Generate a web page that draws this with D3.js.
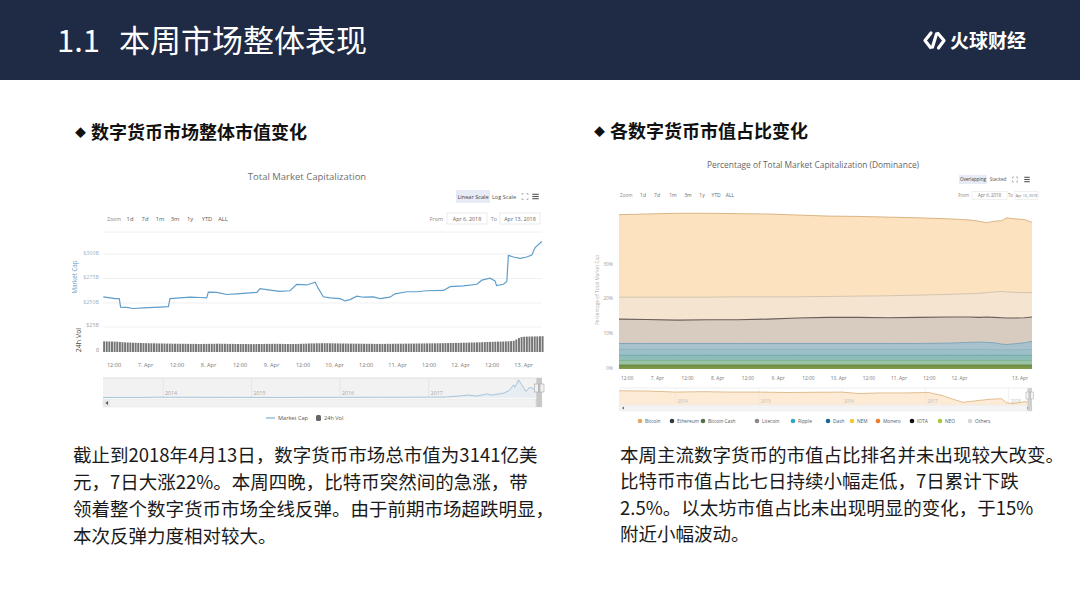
<!DOCTYPE html>
<html>
<head>
<meta charset="utf-8">
<style>
  body { margin: 0; background: #fff; }
  svg { display: block; }
  .cjk { font-family: "Noto Sans CJK SC", sans-serif; }
  .hc text { font-family: "Open Sans", "DejaVu Sans", sans-serif; }
  .axis path, .axis line { display: none; }
  .axis text { font-family: "Open Sans", sans-serif; fill: #777; }
</style>
</head>
<body>
<script src="https://cdn.jsdelivr.net/npm/d3@7"></script>
<script>
// ---------- data ----------
// total market cap, hours after 2018-04-06 00:00 (UTC) and $B
var capHours = [8.1,10.7,12.6,14.2,14.7,17.0,19.5,23.4,27.2,29.7,
  32.9,33.5,37.3,41.1,45.0,47.5,48.1,51.3,55.1,58.9,
  62.7,66.6,67.8,71.6,75.4,79.2,81.8,85.6,88.8,90.0,
  91.9,94.5,98.3,100.2,102.1,104.7,107.2,111.0,113.5,117.3,
  119.2,123.7,127.5,131.3,137.7,140.2,145.3,150.4,152.3,155.4,
  157.3,157.9,160.5,161.8,162.4,164.3,166.9,169.4,171.3,172.6,175.1];
var capValues = [256.3,255.2,254.5,254.5,245.8,245.5,244.4,245.1,245.5,245.8,
  246.2,254.5,255.2,255.9,255.6,255.2,261.1,260.8,258.7,259.4,
  260.1,260.8,264.6,263.2,261.8,262.5,269.1,268.4,271.2,264.9,
  256.3,255.2,254.5,252.1,253.5,257.0,255.9,256.3,254.5,255.9,
  259.4,261.5,261.5,262.5,262.8,266.7,267.4,269.1,273.3,275.3,
  272.6,267.7,269.1,271.9,298.6,296.9,295.5,296.9,299.0,306.6,312.8];

// 24h volume ($B), hourly from hour 8 (Apr 6 08:00)
var volStartHour = 8;
var volValues = [
  10.6,10.6,10.5,10.5,10.4,10.3,10.0,9.8,9.6,9.5,9.4,9.3,9.2,9.1,9.0,8.9,8.8,8.8,8.7,8.7,8.6,8.6,8.5,8.5,
  8.4,8.4,8.3,8.3,8.3,8.2,8.2,8.2,8.1,8.1,8.1,8.1,8.0,8.0,8.1,8.1,8.2,8.2,8.2,8.3,8.3,8.2,8.2,8.1,
  8.1,8.1,8.0,8.0,8.0,8.0,8.0,7.9,7.9,7.9,8.0,8.0,8.0,8.1,8.1,8.1,8.2,8.2,8.2,8.1,8.1,8.0,8.0,8.0,
  8.0,8.1,8.1,8.2,8.3,8.4,8.5,8.6,8.6,8.7,8.7,8.8,8.8,8.8,8.7,8.7,8.6,8.6,8.5,8.5,8.5,8.4,8.4,8.4,
  8.3,8.3,8.3,8.2,8.2,8.2,8.2,8.1,8.1,8.1,8.1,8.1,8.2,8.2,8.2,8.3,8.3,8.3,8.3,8.4,8.4,8.4,8.4,8.5,
  8.5,8.5,8.6,8.6,8.6,8.7,8.7,8.7,8.8,8.8,8.9,8.9,9.0,9.0,9.1,9.1,9.2,9.3,9.3,9.4,9.5,9.5,9.6,9.7,
  9.8,9.9,10.0,10.1,10.2,10.3,10.4,10.4,10.5,10.6,10.7,10.9,11.2,12.5,14.0,15.0,15.3,15.4,15.5,15.5,15.6,15.6,15.7,15.8];

var capTicks = ["$250B", "$275B", "$300B"];
var capTickValues = [250, 275, 300];
var volTicks = ["0", "$25B"];
var volTickValues = [0, 25];

// navigator, total market cap history ($B)
var navCapDates = ["2013-04-28","2013-10-01","2013-12-04","2014-02-01","2014-06-01","2014-10-01","2015-01-15","2015-06-01",
  "2015-11-05","2016-03-01","2016-06-18","2016-10-01","2017-01-05","2017-03-15","2017-05-25","2017-06-12","2017-07-16",
  "2017-09-01","2017-09-15","2017-11-07","2017-11-29","2017-12-17","2017-12-22","2018-01-07","2018-01-20","2018-02-06",
  "2018-02-20","2018-03-05","2018-03-18","2018-04-06","2018-04-13"];
var navCapValues = [1.5,2,15,12,8,6,3.5,3.3,6,9,12,12,17,24,90,115,72,170,110,210,330,600,480,830,600,290,470,450,300,260,314];

// dominance (%), hours after 2018-04-06 00:00
var domHours = [9,20,32,44,56,68,80,92,104,116,128,140,148,152,155,158,161,163,166,170,173];
var btcDom    = [44.2,44.4,44.6,44.6,44.5,44.4,44.1,43.8,43.7,43.5,43.3,43.0,42.7,42.3,41.9,42.3,42.5,43.3,43.0,42.8,42.0];
var othersDom = [20.5,20.5,20.5,20.5,20.6,20.6,20.6,20.7,20.8,20.9,21.1,21.3,21.5,21.6,21.8,22.0,22.1,22.0,21.9,21.8,21.8];
var ethDom    = [14.2,14.1,13.9,14.0,14.0,14.2,14.5,14.7,14.7,14.6,14.7,14.8,14.8,14.7,14.8,14.7,14.6,14.5,14.5,14.6,14.8];
var xrpDom    = [7.2,7.2,7.2,7.2,7.2,7.2,7.2,7.2,7.2,7.2,7.2,7.3,7.5,7.6,7.5,7.4,7.0,6.9,7.1,7.4,7.8];
var bchDom    = [5.5,5.5,5.5,5.5,5.5,5.5,5.5,5.5,5.5,5.5,5.5,5.5,5.5,5.5,5.5,5.4,5.4,5.4,5.4,5.4,5.5];
var ltcDom    = [3.8,3.8,3.8,3.8,3.8,3.8,3.8,3.8,3.8,3.8,3.8,3.8,3.8,3.8,3.8,3.8,3.8,3.8,3.8,3.8,3.8];
var neoDom    = [2.3,2.3,2.3,2.3,2.3,2.3,2.3,2.3,2.3,2.3,2.3,2.3,2.3,2.3,2.3,2.3,2.3,2.3,2.3,2.3,2.3];
var iotaDom   = [1.0,1.0,1.0,1.0,1.0,1.0,1.0,1.0,1.0,1.0,1.0,1.0,1.0,1.0,1.0,1.0,1.0,1.0,1.0,1.0,1.0];
var xmrDom    = [0.9,0.9,0.9,0.9,0.9,0.9,0.9,0.9,0.9,0.9,0.9,0.9,0.9,0.9,0.9,0.9,0.9,0.9,0.9,0.9,0.9];
var dashDom   = [0.8,0.8,0.8,0.8,0.8,0.8,0.8,0.8,0.8,0.8,0.8,0.8,0.8,0.8,0.8,0.8,0.8,0.8,0.8,0.8,0.8];
var nemDom    = [0.7,0.7,0.7,0.7,0.7,0.7,0.7,0.7,0.7,0.7,0.7,0.7,0.7,0.7,0.7,0.7,0.7,0.7,0.7,0.7,0.7];
var domTicks = ["0%", "10%", "20%", "30%"];
var domTickValues = [0, 10, 20, 30];
var legendNames = ["Bitcoin","Ethereum","Bitcoin Cash","Litecoin","Ripple","Dash","NEM","Monero","IOTA","NEO","Others"];

// navigator, bitcoin dominance history (%)
var navDomDates = ["2013-04-28","2013-09-01","2014-01-01","2014-05-01","2014-09-01","2015-01-01","2015-05-01","2015-09-01",
  "2016-01-01","2016-03-15","2016-06-15","2016-10-01","2017-01-15","2017-03-15","2017-05-01","2017-06-15","2017-08-15",
  "2017-10-15","2017-12-01","2017-12-20","2018-01-13","2018-02-10","2018-03-10","2018-04-13"];
var navDomValues = [94,93,88,90,88,88,86,87,88,81,84,84,86,72,55,40,48,55,57,40,33,38,43,42];

var rangeButtons = ["1d","7d","1m","3m","1y","YTD","ALL"];

var leftText = ["截止到2018年4月13日，数字货币市场总市值为3141亿美",
  "元，7日大涨22%。本周四晚，比特币突然间的急涨，带",
  "领着整个数字货币市场全线反弹。由于前期市场超跌明显，",
  "本次反弹力度相对较大。"];
var rightText = ["本周主流数字货币的市值占比排名并未出现较大改变。",
  "比特币市值占比七日持续小幅走低，7日累计下跌",
  "2.5%。以太坊市值占比未出现明显的变化，于15%",
  "附近小幅波动。"];

// ---------- helpers ----------
var t0 = Date.UTC(2018, 3, 6);
function hr(h) { return new Date(t0 + h * 3600e3); }
function day(s) { return new Date(s + "T00:00:00Z"); }
function fmtTick(d) { return d.getUTCHours() === 0 ? d3.utcFormat("%-d. %b")(d) : "12:00"; }

var svg = d3.select("body").append("svg").attr("width", 1080).attr("height", 608);

function txt(g, x, y, s, size, fill, anchor) {
  return g.append("text").attr("x", x).attr("y", y).text(s)
    .attr("font-size", size).attr("fill", fill || "#666")
    .attr("text-anchor", anchor || "start");
}

// ---------- slide ----------
svg.append("rect").attr("width", 1080).attr("height", 80).attr("fill", "#1f2a44");
txt(svg, 57, 52, "1.1", 31, "#fff").attr("class", "cjk");
txt(svg, 119, 52, "本周市场整体表现", 31, "#fff").attr("class", "cjk");

// logo
var logo = svg.append("g").attr("fill", "none").attr("stroke", "#fff").attr("stroke-width", 3.2)
  .attr("stroke-linecap", "round").attr("stroke-linejoin", "round");
logo.append("path").attr("d", "M931,33 L925,40.5 L930.5,47.5");
logo.append("path").attr("d", "M938,33.5 L944,40.5 L938.5,48");
logo.append("path").attr("d", "M936.5,34 L932.5,47");
txt(svg, 950, 47.5, "火球财经", 19, "#fff").attr("class", "cjk").attr("font-weight", 700);

// section headings
txt(svg, 75, 137, "◆", 11, "#111").attr("class", "cjk");
txt(svg, 91, 138.5, "数字货币市场整体市值变化", 18, "#111").attr("class", "cjk").attr("font-weight", 700);
txt(svg, 594, 136, "◆", 11, "#111").attr("class", "cjk");
txt(svg, 610, 137.5, "各数字货币市值占比变化", 18, "#111").attr("class", "cjk").attr("font-weight", 700);

leftText.forEach(function (s, i) {
  txt(svg, 73, 461.5 + i * 27.3, s, 18.5, "#1a1a1a").attr("class", "cjk");
});
rightText.forEach(function (s, i) {
  txt(svg, 620, 461.5 + i * 26.6, s, 18.5, "#1a1a1a").attr("class", "cjk");
});

// ---------- left chart: total market cap ----------
var L = svg.append("g").attr("class", "hc");
txt(L, 307, 180, "Total Market Capitalization", 9.5, "#6f6f6f", "middle");

L.append("rect").attr("x", 456).attr("y", 190).attr("width", 34).attr("height", 13).attr("fill", "#e6ebf5");
txt(L, 473, 199, "Linear Scale", 5.6, "#444", "middle");
txt(L, 504, 199, "Log Scale", 5.6, "#555", "middle");
function fsIcon(g, cx, cy, s) {
  var p = "M" + (cx - s) + "," + (cy - s + 1.5) + "v-1.5h1.5M" + (cx + s - 1.5) + "," + (cy - s) + "h1.5v1.5M" +
    (cx + s) + "," + (cy + s - 1.5) + "v1.5h-1.5M" + (cx - s + 1.5) + "," + (cy + s) + "h-1.5v-1.5";
  g.append("path").attr("d", p).attr("fill", "none").attr("stroke", "#888").attr("stroke-width", 0.6);
}
function menuIcon(g, cx, cy, w) {
  [-2.2, 0, 2.2].forEach(function (d) {
    g.append("line").attr("x1", cx - w / 2).attr("x2", cx + w / 2).attr("y1", cy + d).attr("y2", cy + d)
      .attr("stroke", "#555").attr("stroke-width", 1.1);
  });
}
fsIcon(L, 525, 196.5, 3);
menuIcon(L, 535.5, 196.5, 6.5);

txt(L, 107, 220.5, "Zoom", 5.2, "#888");
var lBtnX = [130, 145, 160, 175, 190, 207, 223];
rangeButtons.forEach(function (b, i) { txt(L, lBtnX[i], 220.5, b, 5.8, "#555", "middle"); });
txt(L, 443, 220.5, "From", 5.4, "#888", "end");
L.append("rect").attr("x", 447).attr("y", 213).attr("width", 40).attr("height", 11).attr("fill", "#fff").attr("stroke", "#ddd").attr("stroke-width", 0.6);
txt(L, 467, 220.5, "Apr 6, 2018", 5.4, "#666", "middle");
txt(L, 497, 220.5, "To", 5.4, "#888", "end");
L.append("rect").attr("x", 500).attr("y", 213).attr("width", 40).attr("height", 11).attr("fill", "#fff").attr("stroke", "#ddd").attr("stroke-width", 0.6);
txt(L, 520, 220.5, "Apr 13, 2018", 5.4, "#666", "middle");
L.append("line").attr("x1", 103).attr("x2", 542).attr("y1", 232).attr("y2", 232).attr("stroke", "#f0f0f0");

var xL = d3.scaleTime().domain([hr(8), hr(175.2)]).range([103, 542]);
var yL = d3.scaleLinear().domain([250, 300]).range([303, 254]);
var yV = d3.scaleLinear().domain([0, 25]).range([352, 327]);

capTickValues.forEach(function (v, i) {
  L.append("line").attr("x1", 103).attr("x2", 542).attr("y1", yL(v)).attr("y2", yL(v)).attr("stroke", "#e9e9e9").attr("stroke-width", 0.7);
  txt(L, 99, yL(v) + 0.5, capTicks[i], 5.4, "#9bb6cc", "end");
});
volTickValues.forEach(function (v, i) {
  if (v > 0) L.append("line").attr("x1", 103).attr("x2", 542).attr("y1", yV(v)).attr("y2", yV(v)).attr("stroke", "#e9e9e9").attr("stroke-width", 0.7);
  txt(L, 99, yV(v) - 0.5, volTicks[i], 5.4, v > 0 ? "#aaa" : "#777", "end");
});
txt(L, 0, 0, "Market Cap", 6.2, "#6aa3cd", "middle").attr("transform", "translate(77,277) rotate(-90)");
txt(L, 0, 0, "24h Vol", 7, "#444", "middle").attr("transform", "translate(81,340) rotate(-90)");

// volume bars
var barW = xL(hr(1)) - xL(hr(0));
L.append("g").selectAll("rect").data(volValues).join("rect")
  .attr("x", function (d, i) { return xL(hr(volStartHour + i)) + 0.15; })
  .attr("width", barW - 0.7)
  .attr("y", function (d) { return yV(d); })
  .attr("height", function (d) { return yV(0) - yV(d); })
  .attr("fill", "#747474");

// market cap line
var capData = capHours.map(function (h, i) { return { h: h, v: capValues[i] }; });
L.append("path").datum(capData)
  .attr("d", d3.line().x(function (d) { return xL(hr(d.h)); }).y(function (d) { return yL(d.v); }))
  .attr("fill", "none").attr("stroke", "#5f9ecb").attr("stroke-width", 1.2);

var tickHoursL = [12, 24, 36, 48, 60, 72, 84, 96, 108, 120, 132, 144, 156, 168];
L.append("g").attr("class", "axis").attr("transform", "translate(0,357)")
  .call(d3.axisBottom(xL).tickValues(tickHoursL.map(hr)).tickFormat(fmtTick).tickSize(0).tickPadding(6))
  .selectAll("text").attr("font-size", 5.6);

// navigator
var xNL = d3.scaleTime().domain([day("2013-04-28"), hr(175.2)]).range([103, 542]);
var yNL = d3.scaleLinear().domain([0, 830]).range([397.5, 380]);
L.append("rect").attr("x", 103).attr("y", 378).attr("width", 439).attr("height", 20).attr("fill", "#fafafa");
L.append("line").attr("x1", 103).attr("x2", 542).attr("y1", 378).attr("y2", 378).attr("stroke", "#d8d8d8").attr("stroke-width", 0.7);
d3.utcYear.range(day("2014-01-01"), day("2018-02-01")).forEach(function (d) {
  L.append("line").attr("x1", xNL(d)).attr("x2", xNL(d)).attr("y1", 378).attr("y2", 398).attr("stroke", "#e6e6e6").attr("stroke-width", 0.6);
  txt(L, xNL(d) + 2, 395, d.getUTCFullYear(), 5.2, "#aaa");
});
var navCap = navCapDates.map(function (s, i) { return { d: day(s), v: navCapValues[i] }; });
L.append("path").datum(navCap)
  .attr("d", d3.area().x(function (d) { return xNL(d.d); }).y0(yNL(0)).y1(function (d) { return yNL(d.v); }))
  .attr("fill", "#eef5fa");
L.append("path").datum(navCap)
  .attr("d", d3.line().x(function (d) { return xNL(d.d); }).y(function (d) { return yNL(d.v); }))
  .attr("fill", "none").attr("stroke", "#86b7d6").attr("stroke-width", 0.7);
var selL0 = xNL(hr(8)) - 4, selL1 = xNL(hr(175.2));
L.append("rect").attr("x", 103).attr("y", 378).attr("width", selL0 - 103).attr("height", 20).attr("fill", "rgba(120,120,120,0.06)");
L.append("rect").attr("x", 103).attr("y", 399).attr("width", 439).attr("height", 8).attr("fill", "#f2f2f2").attr("stroke", "#e2e2e2").attr("stroke-width", 0.5);
L.append("rect").attr("x", 103).attr("y", 399).attr("width", 7).attr("height", 8).attr("fill", "#e8e8e8");
L.append("rect").attr("x", 535).attr("y", 399).attr("width", 7).attr("height", 8).attr("fill", "#e8e8e8");
L.append("path").attr("d", "M108,401 L105.5,403 L108,405Z M537,401 L539.5,403 L537,405Z").attr("fill", "#555");
L.append("rect").attr("x", selL0).attr("y", 378).attr("width", selL1 - selL0).attr("height", 29).attr("fill", "#c8c8c8");
[selL0, selL1].forEach(function (x) {
  L.append("rect").attr("x", x - 2).attr("y", 384).attr("width", 4).attr("height", 8).attr("fill", "#f2f2f2").attr("stroke", "#999").attr("stroke-width", 0.5);
});

// legend
L.append("line").attr("x1", 266).attr("x2", 275).attr("y1", 418).attr("y2", 418).attr("stroke", "#5f9ecb").attr("stroke-width", 1);
txt(L, 278, 420, "Market Cap", 5.6, "#555");
L.append("rect").attr("x", 316).attr("y", 415).attr("width", 5).attr("height", 6).attr("rx", 1.5).attr("fill", "#666");
txt(L, 324, 420, "24h Vol", 5.6, "#555");

// ---------- right chart: dominance ----------
var R = svg.append("g").attr("class", "hc");
txt(R, 813, 167.5, "Percentage of Total Market Capitalization (Dominance)", 8.4, "#666", "middle")
  .attr("font-family", "DejaVu Sans");
R.append("rect").attr("x", 959).attr("y", 175).attr("width", 28).attr("height", 9).attr("fill", "#e6ebf5");
txt(R, 973, 181.3, "Overlapping", 4.6, "#444", "middle");
txt(R, 998, 181.3, "Stacked", 4.6, "#555", "middle");
fsIcon(R, 1015, 179.5, 2.5);
menuIcon(R, 1027, 179.5, 5.5);

txt(R, 620, 197, "Zoom", 4.6, "#888");
var rBtnX = [643, 657, 673, 688, 702, 716, 730];
rangeButtons.forEach(function (b, i) { txt(R, rBtnX[i], 197, b, 5, "#666", "middle"); });
txt(R, 969, 197, "From", 4.4, "#888", "end");
R.append("rect").attr("x", 972).attr("y", 191.5).attr("width", 35).attr("height", 8).attr("fill", "#fff").attr("stroke", "#e2e2e2").attr("stroke-width", 0.5);
txt(R, 989.5, 197, "Apr 6, 2018", 4.4, "#777", "middle");
txt(R, 1013, 197, "To", 4.4, "#888", "end");
R.append("rect").attr("x", 1015).attr("y", 191.5).attr("width", 23).attr("height", 8).attr("fill", "#fff").attr("stroke", "#e2e2e2").attr("stroke-width", 0.5);
txt(R, 1026.5, 196.8, "Apr 13, 2018", 3.7, "#777", "middle");

var xR = d3.scaleTime().domain([hr(9), hr(173)]).range([619, 1032]);
var yR = d3.scaleLinear().domain([0, 30]).range([368.5, 264.1]);

var domSeries = [
  { name: "Bitcoin", values: btcDom },
  { name: "Others", values: othersDom },
  { name: "Ethereum", values: ethDom },
  { name: "Ripple", values: xrpDom },
  { name: "Bitcoin Cash", values: bchDom },
  { name: "Litecoin", values: ltcDom },
  { name: "NEO", values: neoDom },
  { name: "IOTA", values: iotaDom },
  { name: "Monero", values: xmrDom },
  { name: "Dash", values: dashDom },
  { name: "NEM", values: nemDom }
];
// visible band colours (areas overlap with transparency in the original)
var bandFill = { "Bitcoin": "#fde2bf", "Others": "#f5e5d0", "Ethereum": "#d8cbc0", "Ripple": "#a7c2cd",
  "Bitcoin Cash": "#9cc0c9", "Litecoin": "#8dbdb7", "NEO": "#98c3a6", "IOTA": "#809d4f", "Monero": "#7d9a4b",
  "Dash": "#7f9c4d", "NEM": "#7b984a" };
var bandLine = { "Bitcoin": "#cfa66d", "Others": "#c9bcab", "Ethereum": "#6b5e5b", "Ripple": "#6f9fb8",
  "Bitcoin Cash": "#8eb3bd", "Litecoin": "#6aa8a6", "NEO": "#7fb08f", "IOTA": "#6f8c3f", "Monero": "#6f8c3f",
  "Dash": "#6f8c3f", "NEM": "#6f8c3f" };
var legendColor = { "Bitcoin": "#e4a95c", "Ethereum": "#343a40", "Bitcoin Cash": "#4f7148", "Litecoin": "#8a8a8a",
  "Ripple": "#33a6c2", "Dash": "#1d6699", "NEM": "#f4c638", "Monero": "#ee7a2a", "IOTA": "#111",
  "NEO": "#a9c93c", "Others": "#d6d6d6" };

var area = d3.area().x(function (d) { return xR(hr(d.h)); }).y0(yR(0)).y1(function (d) { return yR(d.v); });
var line = d3.line().x(function (d) { return xR(hr(d.h)); }).y(function (d) { return yR(d.v); });
domSeries.forEach(function (s) {
  var pts = domHours.map(function (h, i) { return { h: h, v: s.values[i] }; });
  R.append("path").datum(pts).attr("d", area).attr("fill", bandFill[s.name]);
  R.append("path").datum(pts).attr("d", line).attr("fill", "none")
    .attr("stroke", bandLine[s.name]).attr("stroke-width", s.name === "Ethereum" ? 1.1 : 0.8);
});

domTickValues.forEach(function (v, i) {
  txt(R, 613, yR(v) + 1.5, domTicks[i], 4.8, "#999", "end");
});
txt(R, 0, 0, "Percentage of Total Market Cap", 4.8, "#aaa", "middle").attr("transform", "translate(599,290) rotate(-90)");

var tickHoursR = [12, 24, 36, 48, 60, 72, 84, 96, 108, 120, 132, 144, 168];
R.append("g").attr("class", "axis").attr("transform", "translate(0,372)")
  .call(d3.axisBottom(xR).tickValues(tickHoursR.map(hr)).tickFormat(fmtTick).tickSize(0).tickPadding(5))
  .selectAll("text").attr("font-size", 4.8).attr("fill", "#888");

// navigator
var xNR = d3.scaleTime().domain([day("2013-04-28"), hr(173)]).range([619, 1032]);
var yNR = d3.scaleLinear().domain([30, 100]).range([404.5, 389.5]);
R.append("line").attr("x1", 619).attr("x2", 1032).attr("y1", 388).attr("y2", 388).attr("stroke", "#e2e2e2").attr("stroke-width", 0.6);
var navDom = navDomDates.map(function (s, i) { return { d: day(s), v: navDomValues[i] }; });
R.append("path").datum(navDom)
  .attr("d", d3.area().x(function (d) { return xNR(d.d); }).y0(405).y1(function (d) { return yNR(d.v); }))
  .attr("fill", "#fdebd6");
d3.utcYear.range(day("2014-01-01"), day("2018-02-01")).forEach(function (d) {
  R.append("line").attr("x1", xNR(d)).attr("x2", xNR(d)).attr("y1", 388).attr("y2", 405).attr("stroke", "#ece4da").attr("stroke-width", 0.5);
  txt(R, xNR(d) + 2, 403, d.getUTCFullYear(), 4.4, "#bbb");
});
R.append("path").datum(navDom)
  .attr("d", d3.line().x(function (d) { return xNR(d.d); }).y(function (d) { return yNR(d.v); }))
  .attr("fill", "none").attr("stroke", "#d4a66a").attr("stroke-width", 0.7);
R.append("rect").attr("x", 619).attr("y", 405).attr("width", 413).attr("height", 6).attr("fill", "#f3f3f3").attr("stroke", "#e6e6e6").attr("stroke-width", 0.4);
R.append("path").attr("d", "M624,406.5 L622,408 L624,409.5Z M1027,406.5 L1029,408 L1027,409.5Z").attr("fill", "#666");
var selR0 = xNR(hr(9)) - 3, selR1 = xNR(hr(173));
R.append("rect").attr("x", selR0).attr("y", 388).attr("width", selR1 - selR0).attr("height", 23).attr("fill", "#d0d0d0");
[selR0, selR1].forEach(function (x) {
  R.append("rect").attr("x", x - 1.5).attr("y", 392).attr("width", 3).attr("height", 7).attr("fill", "#f2f2f2").attr("stroke", "#999").attr("stroke-width", 0.4);
});

// legend
var legX = [640, 672, 703, 757, 793, 828, 852, 878, 912, 940, 970];
legendNames.forEach(function (n, i) {
  R.append("circle").attr("cx", legX[i]).attr("cy", 421).attr("r", 2.3).attr("fill", legendColor[n]);
  txt(R, legX[i] + 5, 422.8, n, 4.8, "#4d5b70");
});
</script>
</body>
</html>
